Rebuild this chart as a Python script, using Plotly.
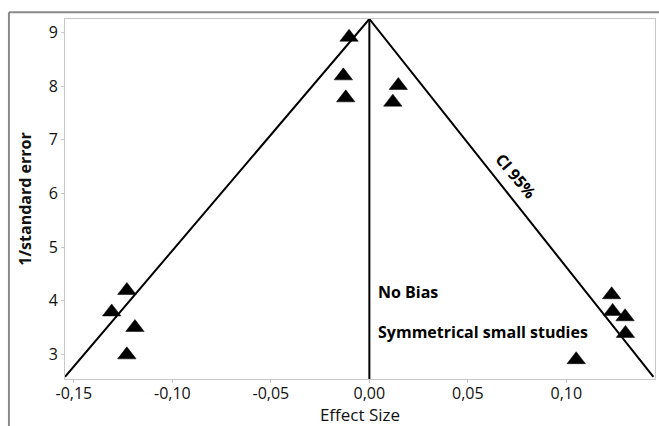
import plotly.graph_objects as go

# Study data (effect size, 1/standard error)
effect_size = [-0.0103, -0.0132, -0.0120, 0.0147, 0.0119,
               -0.1231, -0.1308, -0.1190, -0.1231,
               0.1230, 0.1235, 0.1298, 0.1300, 0.1050]
inv_se = [8.91, 8.19, 7.78, 8.01, 7.70,
          4.19, 3.79, 3.50, 2.99,
          4.11, 3.80, 3.70, 3.39, 2.90]

# Funnel (95% CI) lines
ci_x = [-0.1545, 0.0, 0.1442]
ci_y = [2.58, 9.25, 2.58]
nobias_x = [0.0, 0.0]
nobias_y = [2.54, 9.25]

x_tickvals = [-0.15, -0.10, -0.05, 0.00, 0.05, 0.10]
x_ticktext = ["-0,15", "-0,10", "-0,05", "0,00", "0,05", "0,10"]
y_tickvals = [3, 4, 5, 6, 7, 8, 9]
y_ticktext = ["3", "4", "5", "6", "7", "8", "9"]

FONT = "Open Sans"
TXT = "#111111"

fig = go.Figure()
fig.add_trace(go.Scatter(x=ci_x, y=ci_y, mode="lines",
                         line=dict(color="black", width=2), hoverinfo="skip"))
fig.add_trace(go.Scatter(x=nobias_x, y=nobias_y, mode="lines",
                         line=dict(color="black", width=2), hoverinfo="skip"))
fig.add_trace(go.Scatter(x=effect_size, y=inv_se, mode="markers",
                         marker=dict(symbol="triangle-up", size=16, color="black",
                                     line=dict(width=0.5, color="black"))))

fig.add_annotation(x=0.0035, y=4.16, text="<b>No Bias</b>", showarrow=False,
                   xanchor="left", yanchor="middle",
                   font=dict(family=FONT, size=16, color="black"))
fig.add_annotation(x=0.0035, y=3.41, text="<b>Symmetrical small studies</b>", showarrow=False,
                   xanchor="left", yanchor="middle",
                   font=dict(family=FONT, size=16, color="black"))
fig.add_annotation(x=0.0745, y=6.33, text="<b>CI 95%</b>", showarrow=False,
                   textangle=50, xanchor="center", yanchor="middle",
                   font=dict(family=FONT, size=16, color="black"))

# outer frame lines
fig.add_shape(type="line", xref="paper", yref="paper", x0=-0.095, x1=1.01, y0=1.019, y1=1.019,
              line=dict(color="#8a8a8a", width=2))
fig.add_shape(type="line", xref="paper", yref="paper", x0=-0.095, x1=-0.095, y0=1.019, y1=-0.15,
              line=dict(color="#8a8a8a", width=2))

fig.update_layout(
    width=659, height=426,
    margin=dict(l=65, r=4, t=19, b=47),
    paper_bgcolor="white", plot_bgcolor="white",
    showlegend=False,
    font=dict(family=FONT, color=TXT),
    xaxis=dict(range=[-0.1545, 0.145], tickvals=x_tickvals, ticktext=x_ticktext,
               showgrid=False, zeroline=False, showline=True, mirror=True,
               linecolor="#c8c8c8", linewidth=1, ticks="outside", ticklen=3,
               tickcolor="#c8c8c8", tickfont=dict(size=16, color=TXT),
               ticklabelstandoff=-3, automargin=False,
               title=dict(text="Effect Size", font=dict(size=17, color=TXT), standoff=5)),
    yaxis=dict(range=[2.54, 9.25], tickvals=y_tickvals, ticktext=y_ticktext,
               showgrid=False, zeroline=False, showline=True, mirror=True,
               linecolor="#c8c8c8", linewidth=1, ticks="outside", ticklen=3,
               tickcolor="#c8c8c8", tickfont=dict(size=16, color=TXT),
               automargin=False,
               title=dict(text="<b>1/standard error</b>", font=dict(size=16, color=TXT),
                          standoff=13)),
)

fig.write_html("out.html", config={"displayModeBar": False},
               post_script="document.body.style.margin='0';document.body.style.padding='0';")
